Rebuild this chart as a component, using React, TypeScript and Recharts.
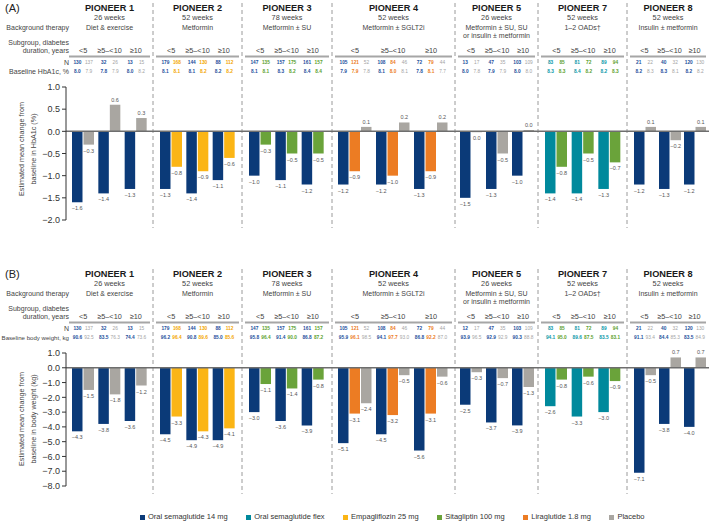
import { BarChart, Bar, XAxis, YAxis, ReferenceLine, LabelList } from "recharts";

const FONT = '"Liberation Sans", Arial, Helvetica, sans-serif';

type Arm = "sema" | "flex" | "empa" | "sita" | "lira" | "placebo";

const armColors: Record<Arm, string> = {
  sema: "#0b3a78",
  flex: "#00899c",
  empa: "#fbb515",
  sita: "#6aa33a",
  lira: "#ec7c23",
  placebo: "#a9a6a1",
};
const armText: Record<Arm, string> = {
  sema: "#1d4f9c",
  flex: "#0b97a8",
  empa: "#f3a600",
  sita: "#5c9f2e",
  lira: "#ec7c23",
  placebo: "#a3a3a3",
};
const armLabels: Record<Arm, string> = {
  sema: "Oral semaglutide 14 mg",
  flex: "Oral semaglutide flex",
  empa: "Empagliflozin 25 mg",
  sita: "Sitagliptin 100 mg",
  lira: "Liraglutide 1.8 mg",
  placebo: "Placebo",
};
const legendOrder: Arm[] = ["sema", "flex", "empa", "sita", "lira", "placebo"];

const studies = ["PIONEER 1", "PIONEER 2", "PIONEER 3", "PIONEER 4", "PIONEER 5", "PIONEER 7", "PIONEER 8"];
const weeks = ["26 weeks", "52 weeks", "78 weeks", "52 weeks", "26 weeks", "52 weeks", "52 weeks"];
const therapy = [
  ["Diet & exercise"],
  ["Metformin"],
  ["Metformin ± SU"],
  ["Metformin ± SGLT2i"],
  ["Metformin ± SU, SU", "or insulin ± metformin"],
  ["1–2 OADs†"],
  ["Insulin ± metformin"],
];
const studyArms: Arm[][] = [
  ["sema", "placebo"],
  ["sema", "empa"],
  ["sema", "sita"],
  ["sema", "lira", "placebo"],
  ["sema", "placebo"],
  ["flex", "sita"],
  ["sema", "placebo"],
];
const subgroups = ["<5", "≥5–<10", "≥10"];

// [study][subgroup][arm]
const hba1cChange = [
  [[-1.6, -0.3], [-1.4, 0.6], [-1.3, 0.3]],
  [[-1.3, -0.8], [-1.4, -0.9], [-1.1, -0.6]],
  [[-1.0, -0.3], [-1.1, -0.5], [-1.2, -0.5]],
  [[-1.2, -0.9, 0.1], [-1.2, -1.0, 0.2], [-1.3, -0.9, 0.2]],
  [[-1.5, -0.02], [-1.3, -0.5], [-1.0, 0.03]],
  [[-1.4, -0.8], [-1.4, -0.5], [-1.3, -0.7]],
  [[-1.2, 0.1], [-1.3, -0.2], [-1.2, 0.1]],
];
const weightChange = [
  [[-4.3, -1.5], [-3.8, -1.8], [-3.6, -1.2]],
  [[-4.5, -3.3], [-4.9, -4.3], [-4.9, -4.1]],
  [[-3.0, -1.1], [-3.6, -1.4], [-3.9, -0.8]],
  [[-5.1, -3.1, -2.4], [-4.5, -3.2, -0.5], [-5.6, -3.1, -0.6]],
  [[-2.5, -0.3], [-3.7, -0.7], [-3.9, -1.3]],
  [[-2.6, -0.8], [-3.3, -0.6], [-3.0, -0.9]],
  [[-7.1, -0.5], [-3.8, 0.7], [-4.0, 0.7]],
];
const hba1cN = [
  [[130, 137], [32, 26], [13, 15]],
  [[179, 168], [144, 130], [88, 112]],
  [[147, 135], [157, 175], [161, 157]],
  [[105, 121, 52], [108, 84, 46], [72, 79, 44]],
  [[13, 17], [47, 35], [103, 109]],
  [[83, 85], [81, 72], [89, 94]],
  [[21, 22], [40, 32], [120, 130]],
];
const weightN = [
  [[130, 137], [32, 26], [13, 15]],
  [[179, 168], [144, 130], [88, 112]],
  [[147, 135], [157, 175], [161, 157]],
  [[105, 121, 52], [108, 84, 46], [72, 79, 44]],
  [[12, 17], [47, 35], [103, 109]],
  [[83, 85], [81, 72], [89, 94]],
  [[21, 22], [40, 32], [120, 130]],
];
const hba1cBaseline = [
  [[8.0, 7.9], [7.8, 7.9], [8.0, 8.2]],
  [[8.1, 8.1], [8.1, 8.2], [8.2, 8.2]],
  [[8.1, 8.1], [8.3, 8.2], [8.4, 8.4]],
  [[7.9, 7.9, 7.8], [8.1, 8.0, 8.1], [7.8, 8.1, 7.7]],
  [[8.0, 7.8], [7.9, 7.9], [8.0, 8.0]],
  [[8.3, 8.3], [8.4, 8.2], [8.2, 8.3]],
  [[8.2, 8.3], [8.3, 8.1], [8.2, 8.2]],
];
const weightBaseline = [
  [[90.6, 92.5], [83.5, 76.3], [74.4, 73.6]],
  [[96.2, 96.4], [90.8, 89.6], [85.0, 85.6]],
  [[95.8, 96.4], [91.4, 90.0], [86.8, 87.2]],
  [[95.9, 96.1, 98.5], [94.1, 97.7, 93.0], [86.8, 92.2, 87.0]],
  [[93.9, 96.5], [92.9, 92.9], [90.3, 88.8]],
  [[94.1, 95.0], [89.6, 87.5], [83.5, 83.1]],
  [[91.1, 93.4], [84.4, 85.3], [83.5, 84.9]],
];
const hba1cTicks = [1, 0.5, 0, -0.5, -1, -1.5, -2];
const weightTicks = [1, 0, -1, -2, -3, -4, -5, -6, -7, -8];

// column layout: c0/c1 = column edges, p0/p1 = bar area
const COLS = [
  { c0: 66, c1: 153, p0: 70, p1: 149 },
  { c0: 153, c1: 242, p0: 158, p1: 237 },
  { c0: 242, c1: 332, p0: 247, p1: 326 },
  { c0: 332, c1: 455, p0: 336, p1: 450 },
  { c0: 455, c1: 538, p0: 458, p1: 536 },
  { c0: 538, c1: 627, p0: 543, p1: 623 },
  { c0: 627, c1: 709, p0: 632, p1: 707 },
];
const BAR = 10.5;
const GAP = 1;
const PLOT_H = 133;

const fmt = (v: number) => {
  const s = Math.abs(v).toFixed(1);
  return (v < 0 && s !== "0.0" ? "−" : "") + s;
};

const barCenter = (i: number, s: number, k: number, n: number) => {
  const c = COLS[i];
  const bw = (c.p1 - c.p0) / 3;
  return c.p0 + bw * (s + 0.5) + (k - (n - 1) / 2) * (BAR + GAP);
};

const renderValue = (props: any) => {
  const vb = props.viewBox ?? {};
  const x = Number(props.x ?? vb.x);
  const y = Number(props.y ?? vb.y);
  const w = Number(props.width ?? vb.width);
  const h = Number(props.height ?? vb.height);
  const v = Number(props.value);
  const top = Math.min(y, y + h);
  const bottom = Math.max(y, y + h);
  return (
    <text x={x + w / 2} y={v < 0 ? bottom + 6 : top - 5} textAnchor="middle" dominantBaseline="central"
      fontSize={5.5} fill="#555" fontFamily={FONT}>
      {fmt(v)}
    </text>
  );
};

interface PanelProps {
  dy: number;
  letter: string;
  change: number[][][];
  n: number[][][];
  baseline: number[][][];
  baselineLabel: string;
  baselineSize: number;
  ticks: number[];
  yTitle: string[];
  yTitleY: number;
}

function Panel({ dy, letter, change, n, baseline, baselineLabel, baselineSize, ticks, yTitle, yTitleY }: PanelProps) {
  const domain = [ticks[ticks.length - 1], ticks[0]];
  const chartTop = 87.3 + dy - 5;
  return (
    <>
      <svg width={709} height={262} style={{ position: "absolute", left: 0, top: dy }} fontFamily={FONT}>
        <text x={5} y={8} dominantBaseline="central" fontSize={11} fill="#222">{letter}</text>
        <g fontSize={7} fill="#444" textAnchor="end">
          <text x={69} y={27.5} dominantBaseline="central">Background therapy</text>
          <text x={69} y={42.5} dominantBaseline="central">Subgroup, diabetes</text>
          <text x={69} y={50.5} dominantBaseline="central">duration, years</text>
          <text x={69} y={62} dominantBaseline="central">N</text>
          <text x={69} y={71} dominantBaseline="central" fontSize={baselineSize}>{baselineLabel}</text>
        </g>
        <g fontSize={7.2} fill="#444" textAnchor="middle">
          <text transform={`translate(21.5 ${yTitleY}) rotate(-90)`} dominantBaseline="central">{yTitle[0]}</text>
          <text transform={`translate(33 ${yTitleY}) rotate(-90)`} dominantBaseline="central">{yTitle[1]}</text>
        </g>
        {COLS.slice(1).map((c, i) => (
          <line key={i} x1={c.c0} x2={c.c0} y1={3} y2={228} stroke="#8f8f8f" strokeWidth={0.9} strokeDasharray="4 3" />
        ))}
        {studies.map((name, i) => {
          const c = COLS[i];
          const cx = (c.c0 + c.c1) / 2;
          const arms = studyArms[i];
          return (
            <g key={name}>
              <text x={cx} y={7.5} textAnchor="middle" dominantBaseline="central" fontSize={9.2} fontWeight="bold" fill="#1a1a1a">{name}</text>
              <text x={cx} y={17.5} textAnchor="middle" dominantBaseline="central" fontSize={7.3} fill="#444">{weeks[i]}</text>
              {therapy[i].map((t, j) => (
                <text key={j} x={cx} y={27.2 + j * 7.8} textAnchor="middle" dominantBaseline="central" fontSize={7} fill="#444">{t}</text>
              ))}
              <line x1={c.c0 + 3} x2={c.c1 - 3} y1={56.5} y2={56.5} stroke="#a6a6a6" strokeWidth={2.2} />
              {subgroups.map((g, s) => (
                <g key={g}>
                  <text x={barCenter(i, s, (arms.length - 1) / 2, arms.length)} y={50} textAnchor="middle" dominantBaseline="central" fontSize={7.3} fill="#444">{g}</text>
                  {arms.map((a, k) => (
                    <g key={a} fontSize={4.8} fontWeight={a === "placebo" ? "normal" : "bold"} fill={armText[a]} textAnchor="middle">
                      <text x={barCenter(i, s, k, arms.length)} y={62} dominantBaseline="central">{n[i][s][k]}</text>
                      <text x={barCenter(i, s, k, arms.length)} y={71} dominantBaseline="central">{baseline[i][s][k].toFixed(1)}</text>
                    </g>
                  ))}
                </g>
              ))}
            </g>
          );
        })}
      </svg>
      {studies.map((name, i) => {
        const c = COLS[i];
        const arms = studyArms[i];
        const left = i === 0 ? 0 : c.c0;
        const data = subgroups.map((g, s) => {
          const row: Record<string, any> = { g };
          arms.forEach((a, k) => { row[a] = change[i][s][k]; });
          return row;
        });
        return (
          <div key={name} style={{ position: "absolute", left, top: chartTop }}>
            <BarChart width={c.c1 - left} height={PLOT_H + 10} data={data} barGap={GAP}
              margin={{ top: 5, bottom: 5, left: 0, right: 0 }}>
              <XAxis dataKey="g" hide padding={{ left: c.p0 - c.c0, right: c.c1 - c.p1 }} />
              {i === 0 ? (
                <YAxis domain={domain} ticks={ticks} interval={0} width={66} tickSize={4}
                  tickFormatter={(v: number) => fmt(v)}
                  tick={{ fontSize: 9, fill: "#333", fontFamily: FONT }}
                  axisLine={{ stroke: "#333" }} tickLine={{ stroke: "#333" }} />
              ) : (
                <YAxis hide domain={domain} ticks={ticks} />
              )}
              <ReferenceLine y={0} stroke="#6e6e6e" strokeWidth={1.5} />
              {arms.map((a) => (
                <Bar key={a} dataKey={a} fill={armColors[a]} barSize={BAR} isAnimationActive={false}>
                  <LabelList dataKey={a} content={renderValue} />
                </Bar>
              ))}
            </BarChart>
          </div>
        );
      })}
    </>
  );
}

function LegendRow() {
  return (
    <div style={{ position: "absolute", left: 140, top: 512, display: "flex", gap: 18.5, fontFamily: FONT, fontSize: 7.5, color: "#333", lineHeight: "10px" }}>
      {legendOrder.map((a) => (
        <div key={a} style={{ display: "flex", alignItems: "center", whiteSpace: "nowrap" }}>
          <span style={{ width: 5, height: 5, background: armColors[a], marginRight: 3, display: "inline-block" }} />
          {armLabels[a]}
        </div>
      ))}
    </div>
  );
}

export default function App() {
  return (
    <div style={{ position: "absolute", left: 0, top: 0, width: 709, height: 524, background: "#fff", overflow: "hidden" }}>
      <Panel dy={0} letter="(A)" change={hba1cChange} n={hba1cN} baseline={hba1cBaseline}
        baselineLabel="Baseline HbA1c, %" baselineSize={7} ticks={hba1cTicks}
        yTitle={["Estimated mean change from", "baseline in HbA1c (%)"]} yTitleY={149} />
      <Panel dy={266} letter="(B)" change={weightChange} n={weightN} baseline={weightBaseline}
        baselineLabel="Baseline body weight, kg" baselineSize={6.1} ticks={weightTicks}
        yTitle={["Estimated mean change from", "baseline in body weight (kg)"]} yTitleY={153} />
      <LegendRow />
    </div>
  );
}
